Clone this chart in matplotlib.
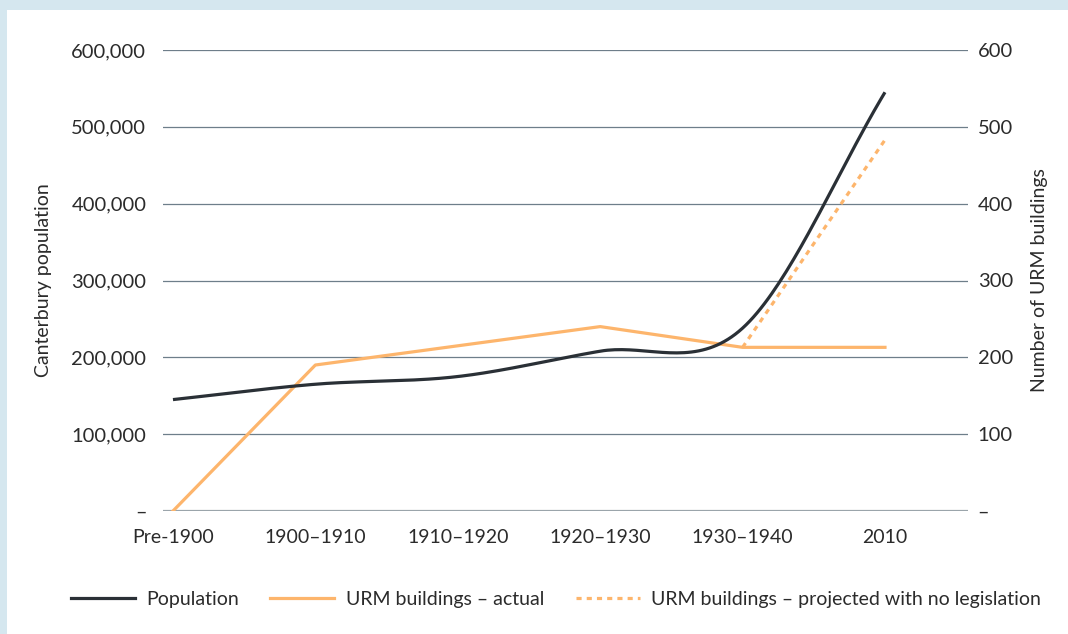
"""Canterbury population vs URM buildings, recreated with matplotlib."""
import matplotlib
matplotlib.use("Agg")
import matplotlib.pyplot as plt
import matplotlib.patches as mpatches
from matplotlib.lines import Line2D
import numpy as np

plt.rcParams["font.family"] = ["Lato", "DejaVu Sans"]

# ---------- data ----------
periods = ["Pre-1900", "1900\u20131910", "1910\u20131920", "1920\u20131930", "1930\u20131940", "2010"]
population = [145000, 165000, 175000, 208000, 238000, 545000]
urm_actual = [0, 190, 215, 240, 213, 213]
urm_projected_periods = ["1930\u20131940", "2010"]
urm_projected = [213, 483]

pop_ticks = [0, 100000, 200000, 300000, 400000, 500000, 600000]
urm_ticks = [0, 100, 200, 300, 400, 500, 600]

BLACK = "#2a3036"
ORANGE = "#fdb56c"
GRID = "#6e7e8a"
TEXT = "#2b2b2b"


def smooth(xs, ys, n=40):
    """Catmull-Rom style smoothing, like a spreadsheet 'smoothed line'."""
    xs = np.asarray(xs, float)
    ys = np.asarray(ys, float)
    m = np.empty_like(ys)
    m[1:-1] = (ys[2:] - ys[:-2]) / 2
    m[0] = ys[1] - ys[0]
    m[-1] = ys[-1] - ys[-2]
    out_x, out_y = [], []
    for i in range(len(xs) - 1):
        t = np.linspace(0, 1, n)
        h00 = 2 * t**3 - 3 * t**2 + 1
        h10 = t**3 - 2 * t**2 + t
        h01 = -2 * t**3 + 3 * t**2
        h11 = t**3 - t**2
        out_x.append(xs[i] + t)
        out_y.append(h00 * ys[i] + h10 * m[i] + h01 * ys[i + 1] + h11 * m[i + 1])
    return np.concatenate(out_x), np.concatenate(out_y)


fig = plt.figure(figsize=(10.68, 6.34), dpi=100, facecolor="#d5e7ef")
fig.patches.append(mpatches.Rectangle((7 / 1068, 0), 1, 1 - 10 / 634,
                                      transform=fig.transFigure, facecolor="white",
                                      edgecolor="none", zorder=-5))

ax = fig.add_axes([163 / 1068, 1 - 511 / 634, (968 - 163) / 1068, (511 - 50) / 634])
ax2 = ax.twinx()
ax.set_zorder(2)
ax2.set_zorder(1)
ax.set_facecolor("none")
ax2.set_facecolor("none")

x = np.arange(len(periods))
sx, sy = smooth(x, population)

# gridlines (on the back axes so the orange lines sit above them)
for v in urm_ticks[1:]:
    ax2.axhline(v, color=GRID, lw=0.9, zorder=1)
ax2.axhline(0, color="#9ba5ab", lw=1.6, zorder=1)

ax.plot(sx, sy, color=BLACK, lw=2.3, zorder=4, solid_capstyle="butt")
ax2.plot(x, urm_actual, color=ORANGE, lw=2.3, zorder=3)
xp = [periods.index(p) for p in urm_projected_periods]
ax2.plot(xp, urm_projected, color=ORANGE, lw=2.3, ls=(0, (1.6, 1.6)), zorder=3)

ax.set_xlim(-0.07, 5.583)
ax.set_ylim(0, 600000)
ax2.set_ylim(0, 600)

ax.set_xticks(x)
ax.set_xticklabels(periods)
ax.set_yticks(pop_ticks)
ax.set_yticklabels(["\u2013" if v == 0 else f"{v:,}" for v in pop_ticks])
ax2.set_yticks(urm_ticks)
ax2.set_yticklabels(["\u2013" if v == 0 else str(v) for v in urm_ticks])

ax.tick_params(axis="y", length=0, pad=12, labelsize=14.5, labelcolor=TEXT)
ax.tick_params(axis="x", length=0, pad=13, labelsize=14, labelcolor=TEXT)
ax2.tick_params(axis="y", length=0, pad=7, labelsize=14.5, labelcolor=TEXT)

for a in (ax, ax2):
    for s in a.spines.values():
        s.set_visible(False)

fig.text(44 / 1068, 1 - 280 / 634, "Canterbury population", rotation=90,
         ha="center", va="center", fontsize=14, color=TEXT)
fig.text(1040 / 1068, 1 - 280 / 634, "Number of URM buildings", rotation=90,
         ha="center", va="center", fontsize=14, color=TEXT)

handles = [
    Line2D([], [], color=BLACK, lw=2.3),
    Line2D([], [], color=ORANGE, lw=2.3),
    Line2D([], [], color=ORANGE, lw=2.3, ls=(0, (1.6, 1.6))),
]
labels = ["Population", "URM buildings \u2013 actual",
          "URM buildings \u2013 projected with no legislation"]
leg = fig.legend(handles, labels, loc="center", bbox_to_anchor=(556 / 1068, 1 - 599 / 634),
                 ncol=3, frameon=False, fontsize=14, handlelength=3.3,
                 handletextpad=0.6, columnspacing=1.6)
for t in leg.get_texts():
    t.set_color(TEXT)

fig.savefig("out.png", dpi=100, facecolor=fig.get_facecolor())
